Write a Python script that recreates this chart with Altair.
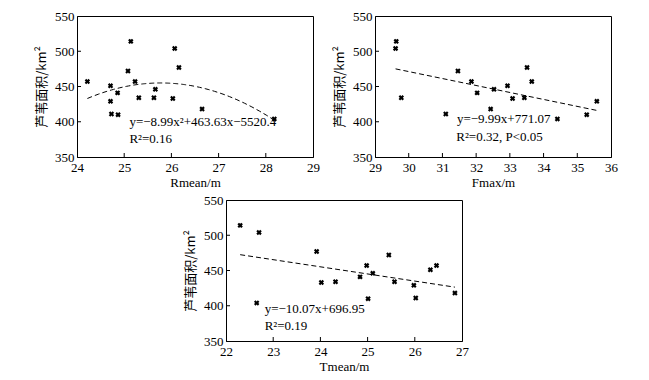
import altair as alt
import pandas as pd

# observed reed area (km²), same 17 observations in every panel
area = [514, 504, 477, 472, 457, 457, 451, 446, 441, 434, 434, 433, 429, 418, 411, 410, 404]

# panel 1: Rmean/m
rmean = [25.14, 26.07, 26.16, 25.08, 24.22, 25.23, 24.71, 25.66, 24.86, 25.31, 25.63, 26.03, 24.71, 26.65, 24.73, 24.87, 28.18]
# panel 2: Fmax/m
fmax = [29.63, 29.61, 33.51, 31.46, 31.86, 33.65, 32.93, 32.53, 32.03, 29.78, 33.43, 33.08, 35.58, 32.43, 31.10, 35.28, 34.41]
# panel 3: Tmean/m
tmean = [22.30, 22.70, 23.92, 25.45, 24.98, 26.46, 26.33, 25.11, 24.84, 24.32, 25.57, 24.02, 25.98, 26.85, 26.02, 25.01, 22.65]

y_ticks = [350, 400, 450, 500, 550]
x_ticks1 = [24, 25, 26, 27, 28, 29]
x_ticks2 = [29, 30, 31, 32, 33, 34, 35, 36]
x_ticks3 = [22, 23, 24, 25, 26, 27]

ann1 = {"x": [25.11, 25.11], "y": [399.5, 376], "text": ["y=−8.99x²+463.63x−5520.4", "R²=0.16"]}
ann2 = {"x": [31.43, 31.41], "y": [404, 379], "text": ["y=−9.99x+771.07", "R²=0.32, P<0.05"]}
ann3 = {"x": [22.82, 22.82], "y": [396, 371], "text": ["y=−10.07x+696.95", "R²=0.19"]}

SERIF = "Liberation Serif"
YT = "芦苇面积/km²"
W, H = 236, 141


def panel(xvals, xname, xdom, xticks, ann, method, order=None, w=W):
    df = pd.DataFrame({"x": xvals, "y": area})
    xs = alt.Scale(domain=xdom, nice=False, zero=False)
    ys = alt.Scale(domain=[350, 550], nice=False, zero=False)
    xax = alt.Axis(title=xname, values=xticks, tickCount=len(xticks), ticks=False, labelPadding=4,
                   titlePadding=2, grid=False, format="d", labelOverlap=False, labelFlush=False)
    yax = alt.Axis(title=YT, values=y_ticks, tickCount=len(y_ticks), ticks=False, labelPadding=3,
                   titlePadding=6, grid=False, format="d", labelOverlap=False, labelFlush=False,
                   titleFont="Noto Sans CJK SC", titleFontWeight="normal", titleFontSize=13)
    X = lambda: alt.X("x:Q", scale=xs, axis=xax, title=xname)
    Y = lambda: alt.Y("y:Q", scale=ys, axis=yax, title=YT)
    base = alt.Chart(df)
    pts = base.mark_point(shape="cross", angle=45, filled=True, size=30, color="black", opacity=1).encode(
        x=X(), y=Y()
    )
    if method == "poly":
        reg = base.transform_regression("x", "y", method="poly", order=order)
    else:
        reg = base.transform_regression("x", "y", method="linear")
    line = reg.mark_line(color="black", strokeWidth=1, strokeDash=[5, 3]).encode(x=X(), y=Y())
    txt = alt.Chart(pd.DataFrame(ann)).mark_text(
        align="left", baseline="middle", font=SERIF, fontSize=13, color="black"
    ).encode(x=X(), y=Y(), text="text:N")
    xt = alt.Chart(pd.DataFrame({"x": xticks[1:-1]})).mark_rule(color="black", strokeWidth=1).encode(
        x=X(), y=alt.value(H), y2=alt.value(H - 4)
    )
    yt = alt.Chart(pd.DataFrame({"y": y_ticks[1:-1]})).mark_rule(color="black", strokeWidth=1).encode(
        y=Y(), x=alt.value(0), x2=alt.value(4)
    )
    return alt.layer(pts, line, txt, xt, yt).properties(width=w, height=H)


p1 = panel(rmean, "Rmean/m", [24, 29], x_ticks1, ann1, "poly", 2)
p2 = panel(fmax, "Fmax/m", [29, 36], x_ticks2, ann2, "linear")
p3 = panel(tmean, "Tmean/m", [22, 27], x_ticks3, ann3, "linear")

chart = alt.vconcat(
    alt.hconcat(p1, p2, spacing=13),
    p3,
    spacing=3,
    center=True,
).properties(
    padding={"left": 27, "top": 1, "right": 5, "bottom": 5},
    background="white",
).configure_view(
    stroke="black", strokeWidth=1
).configure_axis(
    domainColor="black", domainWidth=1, labelFont=SERIF, labelFontSize=13, labelColor="black",
    titleFont=SERIF, titleFontSize=13, titleFontWeight="normal", titleColor="black",
    labelOverlap=False, grid=False, ticks=False,
)

chart.save("out.html", embed_options={"renderer": "svg", "actions": False})
